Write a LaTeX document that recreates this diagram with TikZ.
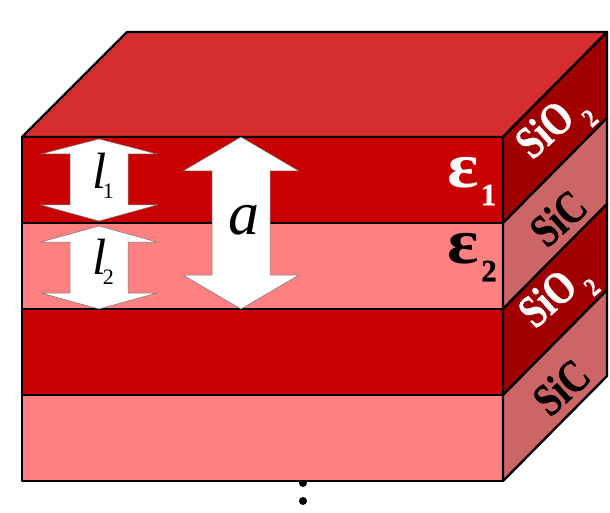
\documentclass[tikz,border=0pt]{standalone}
\usepackage{fontspec}
\setmainfont{Liberation Serif}
\newfontface\sidefont[FakeBold=0.8]{Liberation Serif Bold}
\definecolor{topred}{HTML}{D62E2E}
\definecolor{deepred}{HTML}{C80000}
\definecolor{pinkred}{HTML}{FF8080}
\definecolor{sidedark}{HTML}{A00000}
\definecolor{sidepink}{HTML}{CC6666}
\tikzset{
  edge/.style={draw=black,line width=2.4pt,line join=round},
  dbl/.style={fill=white,draw=black!55,line width=0.5pt,line join=miter},
  sidetxt/.style={rotate=42,yscale=1.25,font=\sidefont\fontsize{37}{37}\selectfont,inner sep=0pt},
  sidesub/.style={rotate=42,yscale=1.2,font=\sidefont\fontsize{22}{22}\selectfont,inner sep=0pt},
  lab/.style={inner sep=0pt},
  greek/.style={inner sep=0pt,xscale=1.15,font=\bfseries\fontsize{64}{64}\selectfont},
  greeksub/.style={inner sep=0pt,font=\sidefont\fontsize{31}{31}\selectfont},
}
\newcommand{\lsub}[1]{{\fontsize{51}{51}\selectfont\itshape l\kern-3.5pt\raisebox{-10pt}{\upshape\fontsize{22}{22}\selectfont #1}}}
\newcommand{\dblarrow}[7]{% x, halfshaft, halfhead, toptip, headtop, headbot, bottip
  \path[dbl] (#1,#4) -- (#1+#3,#5) -- (#1+#2,#5) -- (#1+#2,#6) -- (#1+#3,#6) -- (#1,#7)
   -- (#1-#3,#6) -- (#1-#2,#6) -- (#1-#2,#5) -- (#1-#3,#5) -- cycle;}
\begin{document}
\begin{tikzpicture}[x=1pt,y=-1pt]
\useasboundingbox (0,0) rectangle (610,513);
\fill[black] (303,483) circle (4);
\fill[black] (303,501) circle (4);
% top
\path[edge,fill=topred] (22,137) -- (127,32) -- (607,32) -- (503,137) -- cycle;
% front layers
\path[edge,fill=deepred] (22,137) rectangle (503,223);
\path[edge,fill=pinkred] (22,223) rectangle (503,309);
\path[edge,fill=deepred] (22,309) rectangle (503,395);
\path[edge,fill=pinkred] (22,395) rectangle (503,481);
% side layers
\path[edge,fill=sidedark] (503,137) -- (607,32) -- (607,118) -- (503,223) -- cycle;
\path[edge,fill=sidepink] (503,223) -- (607,118) -- (607,204) -- (503,309) -- cycle;
\path[edge,fill=sidedark] (503,309) -- (607,204) -- (607,290) -- (503,395) -- cycle;
\path[edge,fill=sidepink] (503,395) -- (607,290) -- (607,376) -- (503,481) -- cycle;
% arrows
\dblarrow{99}{29}{58}{139}{154}{205}{221}
\dblarrow{99}{29}{58}{226}{242}{293}{309}
\dblarrow{241}{29}{58}{137}{171}{275}{309}
% labels
\node[lab] (l1) at (103,176) {\lsub{1}};
\node[lab] (l2) at (103,262) {\lsub{2}};
\node[lab,font=\itshape\fontsize{62}{62}\selectfont] (a) at (244,220) {a};
\node[greek,text=white] (e1) at (463,173) {ε};
\node[greeksub,text=white] (s1) at (488.5,195) {1};
\node[greek,text=black] (e2) at (463,249) {ε};
\node[greeksub,text=black] (s2) at (489,271) {2};
\node[sidetxt,text=white] (o1) at (544,129) {SiO};
\node[sidesub,text=white] (n1) at (590,118) {2};
\node[sidetxt,text=black] (c1) at (558,218) {SiC};
\node[sidetxt,text=white] (o2) at (547,298) {SiO};
\node[sidesub,text=white] (n2) at (592,287) {2};
\node[sidetxt,text=black] (c2) at (561,387) {SiC};
\end{tikzpicture}
\end{document}
